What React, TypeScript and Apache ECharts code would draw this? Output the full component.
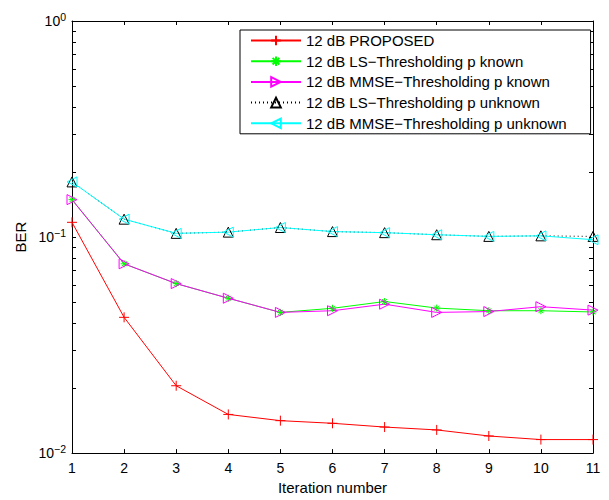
import React, { useEffect, useRef } from "react";
import * as echarts from "echarts";

const iterations = [1, 2, 3, 4, 5, 6, 7, 8, 9, 10, 11];
const proposed = [0.117, 0.0425, 0.0205, 0.0151, 0.01413, 0.01374, 0.0132, 0.0128, 0.012, 0.01155, 0.01155];
const lsKnown = [0.149, 0.0752, 0.0609, 0.0521, 0.0448, 0.0468, 0.0503, 0.0469, 0.0456, 0.0456, 0.045];
const mmseKnown = [0.149, 0.0752, 0.0609, 0.0521, 0.0448, 0.0456, 0.0489, 0.0448, 0.0452, 0.0476, 0.0459];
const lsUnknown = [0.18, 0.121, 0.104, 0.1054, 0.1107, 0.106, 0.1048, 0.1025, 0.1007, 0.1013, 0.1007];
const mmseUnknown = [0.18, 0.121, 0.104, 0.1054, 0.1107, 0.106, 0.1048, 0.1025, 0.1007, 0.1013, 0.0972];

const seriesNames = [
  "12 dB PROPOSED",
  "12 dB LS\u2212Thresholding p known",
  "12 dB MMSE\u2212Thresholding p known",
  "12 dB LS\u2212Thresholding p unknown",
  "12 dB MMSE\u2212Thresholding p unknown",
];

const yMajorTicks = [0.01, 0.1, 1];
const yAllTicks = [
  0.01, 0.02, 0.03, 0.04, 0.05, 0.06, 0.07, 0.08, 0.09,
  0.1, 0.2, 0.3, 0.4, 0.5, 0.6, 0.7, 0.8, 0.9, 1,
];

const FONT = "'Liberation Sans', Arial, Helvetica, sans-serif";
const PLUS = "path://M5,0L5,10M0,5L10,5";
const STAR = "path://M5,0L5,10M0,5L10,5M1.5,1.5L8.5,8.5M8.5,1.5L1.5,8.5";

function pairs(vals: number[]) {
  return iterations.map((x, i) => [x, vals[i]]);
}

function expLabel(v: number) {
  const e = Math.round(Math.log10(v));
  const s = e < 0 ? "\u2212" + -e : String(e);
  return "{b|10}{s|" + s + "}";
}

export default function App() {
  const ref = useRef<HTMLDivElement>(null);
  useEffect(() => {
    document.body.style.margin = "0";
    if (!ref.current) return;
    const chart = echarts.init(ref.current, undefined, { renderer: "svg" });
    const axisLine = { show: true, lineStyle: { color: "#000", width: 1 } };
    const yRich = {
      b: { fontSize: 14, fontFamily: FONT, color: "#000" },
      s: { fontSize: 10.5, fontFamily: FONT, color: "#000", padding: [0, 0, 8, 0] },
    };
    const mk = (
      name: string,
      vals: number[],
      color: string,
      symbol: string,
      size: number,
      rotate: number,
      lineType: any
    ) => ({
      type: "line",
      name,
      data: pairs(vals),
      xAxisIndex: 0,
      yAxisIndex: 0,
      symbol,
      symbolSize: size,
      symbolRotate: rotate,
      showAllSymbol: true,
      lineStyle: { color, width: 1, type: lineType },
      itemStyle: { color: "rgba(0,0,0,0)", borderColor: color, borderWidth: 1 },
      emphasis: { disabled: true },
    });
    chart.setOption({
      animation: false,
      backgroundColor: "#fff",
      textStyle: { fontFamily: FONT },
      grid: { left: 72, right: 16, top: 21, bottom: 43, containLabel: false },
      xAxis: [
        {
          type: "value",
          min: 1,
          max: 11,
          interval: 1,
          position: "bottom",
          name: "Iteration number",
          nameLocation: "middle",
          nameGap: 26,
          nameTextStyle: { fontSize: 15, color: "#000", fontFamily: FONT },
          axisLine,
          axisTick: { show: true, inside: true, length: 4, lineStyle: { color: "#000" } },
          axisLabel: { color: "#000", fontSize: 14, fontFamily: FONT, margin: 8 },
          splitLine: { show: false },
        },
        {
          type: "value",
          min: 1,
          max: 11,
          interval: 1,
          position: "top",
          axisLine,
          axisTick: { show: true, inside: true, length: 4, lineStyle: { color: "#000" } },
          axisLabel: { show: false },
          splitLine: { show: false },
        },
      ],
      yAxis: [
        {
          type: "log",
          logBase: 10,
          min: 0.01,
          max: 1,
          position: "left",
          name: "BER",
          nameLocation: "middle",
          nameGap: 43,
          nameTextStyle: { fontSize: 15, color: "#000", fontFamily: FONT },
          axisLine,
          axisTick: {
            show: true,
            inside: true,
            length: 4,
            customValues: yAllTicks,
            lineStyle: { color: "#000" },
          },
          axisLabel: {
            show: true,
            margin: 6,
            customValues: yMajorTicks,
            formatter: (v: number) => expLabel(v),
            rich: yRich,
          },
          splitLine: { show: false },
        },
        {
          type: "log",
          logBase: 10,
          min: 0.01,
          max: 1,
          position: "right",
          axisLine,
          axisTick: {
            show: true,
            inside: true,
            length: 4,
            customValues: yAllTicks,
            lineStyle: { color: "#000" },
          },
          axisLabel: { show: false },
          splitLine: { show: false },
        },
      ],
      legend: {
        show: true,
        orient: "vertical",
        left: 240,
        top: 30,
        itemWidth: 50,
        itemHeight: 12,
        itemGap: 5.7,
        padding: [3, 24, 3, 10],
        backgroundColor: "#fff",
        borderColor: "#000",
        borderWidth: 1,
        borderRadius: 0,
        textStyle: { fontSize: 15, color: "#000", fontFamily: FONT, lineHeight: 12 },
        data: seriesNames,
      },
      series: [
        mk(seriesNames[0], proposed, "#ff0000", PLUS, 10, 0, "solid"),
        mk(seriesNames[1], lsKnown, "#00ff00", STAR, 7, 0, "solid"),
        mk(seriesNames[2], mmseKnown, "#ff00ff", "triangle", 10, -90, "solid"),
        mk(seriesNames[3], lsUnknown, "#000000", "triangle", 10, 0, [1, 3]),
        mk(seriesNames[4], mmseUnknown, "#00ffff", "triangle", 10, 90, "solid"),
      ],
    });
    return () => chart.dispose();
  }, []);
  return <div ref={ref} style={{ width: 609, height: 500 }} />;
}
